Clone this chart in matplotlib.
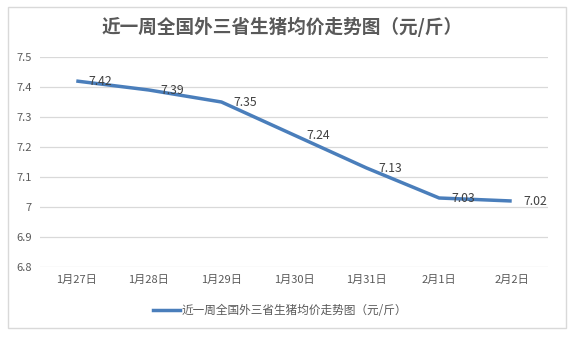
import matplotlib
matplotlib.use("Agg")
import matplotlib.pyplot as plt
from matplotlib.patches import Rectangle
from matplotlib.lines import Line2D

plt.rcParams['font.family'] = ['Noto Sans CJK SC', 'DejaVu Sans']

title = "近一周全国外三省生猪均价走势图（元/斤）"
dates = ["1月27日", "1月28日", "1月29日", "1月30日", "1月31日", "2月1日", "2月2日"]
prices = [7.42, 7.39, 7.35, 7.24, 7.13, 7.03, 7.02]
yticks = [6.8, 6.9, 7.0, 7.1, 7.2, 7.3, 7.4, 7.5]
ytick_labels = ["6.8", "6.9", "7", "7.1", "7.2", "7.3", "7.4", "7.5"]

line_color = "#4a7ebb"
text_color = "#595959"
grid_color = "#d9d9d9"

W, H = 571, 337
fig = plt.figure(figsize=(W / 100, H / 100), dpi=100)
fig.patch.set_facecolor("white")

# outer chart frame
fig.patches.append(Rectangle((8 / W, 1 - 328 / H), 558 / W, 321 / H,
                             transform=fig.transFigure, fill=False,
                             edgecolor=grid_color, linewidth=1.0))

ax = fig.add_axes([40 / W, 1 - 267 / H, 508 / W, 210 / H])
x = list(range(len(dates)))
ax.plot(x, prices, color=line_color, linewidth=2.5, solid_capstyle="butt",
        label=title)
ax.set_xlim(-0.5, len(dates) - 0.5)
ax.set_ylim(6.8, 7.5)
ax.set_yticks(yticks)
ax.set_yticklabels(ytick_labels)
ax.set_xticks(x)
ax.set_xticklabels(dates)
ax.tick_params(axis="both", length=0, labelsize=8, colors=text_color)
ax.tick_params(axis="y", pad=6)
ax.tick_params(axis="x", pad=6)
for s in ax.spines.values():
    s.set_visible(False)
ax.grid(axis="y", color=grid_color, linewidth=0.9)
ax.set_axisbelow(True)

for xi, v in zip(x, prices):
    ax.annotate(f"{v:g}", (xi, v), xytext=(12, 0), textcoords="offset pixels",
                ha="left", va="center", fontsize=8.8, color="#404040")

fig.text(282 / W, 1 - 27 / H, title, ha="center", va="center",
         fontsize=13.4, fontweight="bold", color=text_color)

handle = Line2D([], [], color=line_color, linewidth=2.5)
fig.legend([handle], [title], loc="center", bbox_to_anchor=(280 / W, 1 - 311 / H),
           frameon=False, fontsize=8.4, handlelength=2.3, handletextpad=0.2,
           labelcolor=text_color)

fig.savefig("out.png", dpi=100)
